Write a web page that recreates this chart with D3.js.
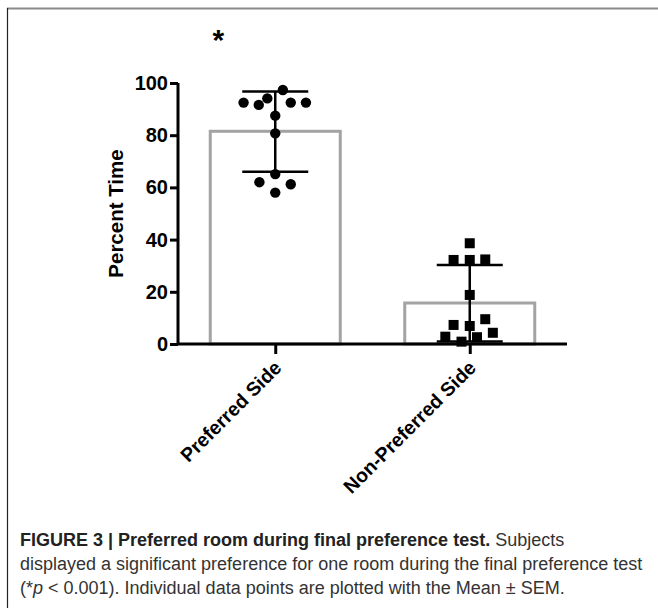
<!DOCTYPE html>
<html>
<head>
<meta charset="utf-8">
<title>Preferred room during final preference test</title>
<style>
body { margin: 0; background: #fff; }
* { font-family: "Liberation Sans", Arial, sans-serif; }
</style>
<script src="https://cdn.jsdelivr.net/npm/d3@7/dist/d3.min.js"></script>
</head>
<body>
<div id="chart"></div>
<script>
// categories and summary values
var categories = ["Preferred Side", "Non-Preferred Side"];
var means = [81.5, 15.7];
var errLow = [66.0, 1.0];
var errHigh = [96.7, 30.3];
var yTicks = [0, 20, 40, 60, 80, 100];

// individual subjects (value, horizontal jitter as a fraction of the cap half-width)
var preferredVals = [97.3, 92.5, 91.6, 94.1, 92.5, 92.5, 87.5, 80.7, 65.1, 62.0, 61.2, 58.0];
var preferredJit  = [0.23, -0.96, -0.50, -0.24, 0.47, 0.93, 0, 0, 0, -0.48, 0.47, 0];
var nonPrefVals = [38.6, 32.2, 32.2, 32.4, 18.8, 7.3, 6.9, 9.5, 4.3, 2.8, 0.9, 2.6];
var nonPrefJit  = [0, -0.49, 0, 0.47, 0, -0.49, 0, 0.47, 0.70, -0.74, -0.25, 0.22];

var width = 658, height = 608;
var svg = d3.select("#chart").append("svg")
    .attr("width", width)
    .attr("height", height);

// frame of the figure panel
svg.append("line")
    .attr("x1", 7).attr("x2", width).attr("y1", 8.5).attr("y2", 8.5)
    .style("stroke", "#8a8a8a").style("stroke-width", 2);
svg.append("line")
    .attr("x1", 7.5).attr("x2", 7.5).attr("y1", 8).attr("y2", height)
    .style("stroke", "#222").style("stroke-width", 1.2);

var x = d3.scalePoint().domain(categories).range([178, 567]).padding(0.5);
var y = d3.scaleLinear().domain([0, 100]).range([344, 83]);
var barW = 130, capHalf = 33;

// bars (outline only)
svg.selectAll("rect.bar")
    .data(categories)
    .enter()
    .append("rect")
        .attr("class", "bar")
        .attr("x", function(d) { return x(d) - barW / 2; })
        .attr("y", function(d, i) { return y(means[i]); })
        .attr("width", barW)
        .attr("height", function(d, i) { return y(0) - y(means[i]); })
        .style("fill", "none")
        .style("stroke", "#a3a3a5")
        .style("stroke-width", 3);

// error bars
categories.forEach(function(c, i) {
    var cx = x(c);
    svg.append("line")
        .attr("x1", cx).attr("x2", cx)
        .attr("y1", y(errHigh[i])).attr("y2", y(errLow[i]))
        .style("stroke", "#000").style("stroke-width", 2.5);
    [errHigh[i], errLow[i]].forEach(function(v) {
        svg.append("line")
            .attr("x1", cx - capHalf).attr("x2", cx + capHalf)
            .attr("y1", y(v)).attr("y2", y(v))
            .style("stroke", "#000").style("stroke-width", 2.5);
    });
});

// points
svg.selectAll("circle.pt")
    .data(preferredVals)
    .enter()
    .append("circle")
        .attr("class", "pt")
        .attr("cx", function(d, i) { return x(categories[0]) + preferredJit[i] * capHalf; })
        .attr("cy", function(d) { return y(d); })
        .attr("r", 5.2)
        .style("fill", "#000");

var sq = 10;
svg.selectAll("rect.pt")
    .data(nonPrefVals)
    .enter()
    .append("rect")
        .attr("class", "pt")
        .attr("x", function(d, i) { return x(categories[1]) + nonPrefJit[i] * capHalf - sq / 2; })
        .attr("y", function(d) { return y(d) - sq / 2; })
        .attr("width", sq)
        .attr("height", sq)
        .style("fill", "#000");

// y axis
var yAxis = svg.append("g")
    .attr("transform", "translate(178,0)")
    .call(d3.axisLeft(y).tickValues(yTicks).tickSize(8).tickPadding(2));
yAxis.select(".domain").attr("d", "M0," + y(100) + "V" + y(0)).style("stroke-width", 3);
yAxis.selectAll(".tick line").style("stroke-width", 3);
yAxis.selectAll(".tick text")
    .style("font-size", "20px").style("font-weight", "bold").attr("fill", "#000");

// x axis
var xAxis = svg.append("g")
    .attr("transform", "translate(0," + y(0) + ")")
    .call(d3.axisBottom(x).tickSize(10).tickSizeOuter(0));
xAxis.select(".domain").attr("d", "M178,0H567").style("stroke-width", 3);
xAxis.selectAll(".tick line").style("stroke-width", 3);
xAxis.selectAll(".tick text")
    .style("font-size", "19.5px").style("font-weight", "bold").attr("fill", "#000")
    .attr("text-anchor", "end")
    .attr("dy", null)
    .attr("y", 0)
    .attr("transform", "translate(7,25) rotate(-45)");

// y axis title
svg.append("text")
    .attr("transform", "translate(123," + (y(50)) + ") rotate(-90)")
    .attr("text-anchor", "middle")
    .style("font-size", "20.5px").style("font-weight", "bold")
    .text("Percent Time");

// significance mark
svg.append("text")
    .attr("x", x(categories[0]) - 57)
    .attr("y", 50)
    .attr("text-anchor", "middle")
    .style("font-size", "30px").style("font-weight", "bold")
    .text("*");

// caption
var cap = svg.append("g").style("font-size", "18px").style("fill", "#333");
var l1 = cap.append("text").attr("x", 20).attr("y", 546);
l1.append("tspan").style("font-weight", "bold").style("fill", "#222")
    .text("FIGURE 3 | Preferred room during final preference test.");
l1.append("tspan").text(" Subjects");
cap.append("text").attr("x", 20).attr("y", 570)
    .text("displayed a significant preference for one room during the final preference test");
var l3 = cap.append("text").attr("x", 20).attr("y", 594);
l3.append("tspan").text("(*");
l3.append("tspan").style("font-style", "italic").text("p");
l3.append("tspan").text(" < 0.001). Individual data points are plotted with the Mean \u00b1 SEM.");
</script>
</body>
</html>
